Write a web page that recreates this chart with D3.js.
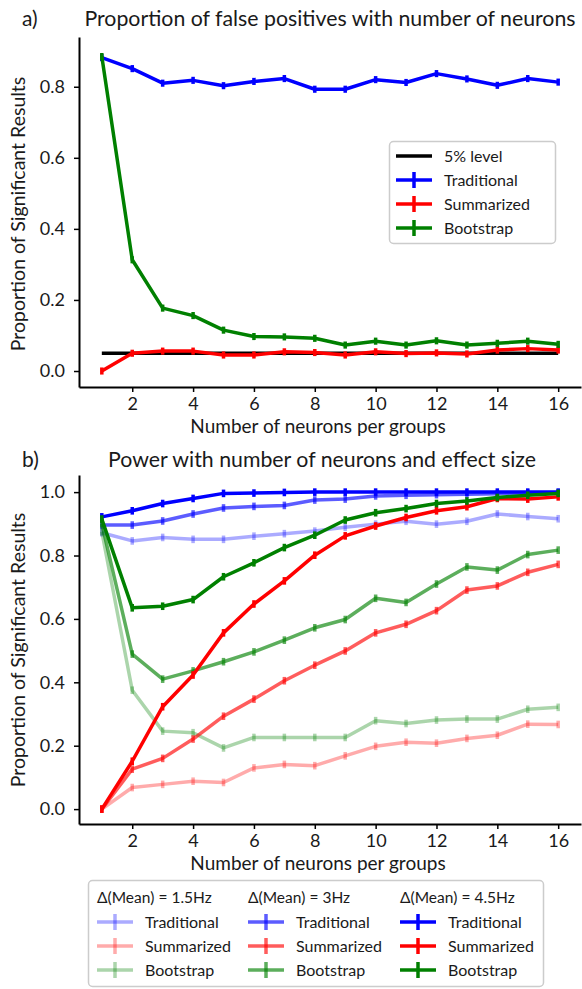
<!DOCTYPE html>
<html><head><meta charset="utf-8">
<script src="https://cdn.jsdelivr.net/npm/d3@7"></script>
<style>
body{margin:0;background:#fff}
text{font-family:Lato, "Open Sans", sans-serif; fill:#1a1a1a}
</style>
</head><body><svg id="c" width="582" height="989"></svg>
<script>
// ---------- data ----------
const neurons = [1,2,3,4,5,6,7,8,9,10,11,12,13,14,15,16];
const xTicks = [2,4,6,8,10,12,14,16];
const fpYTicks = [0.0,0.2,0.4,0.6,0.8];
const powYTicks = [0.0,0.2,0.4,0.6,0.8,1.0];

const fpLevel = 0.05;
const fpTraditional = [0.882,0.851,0.810,0.818,0.803,0.815,0.823,0.793,0.793,0.820,0.812,0.837,0.822,0.804,0.823,0.813];
const fpSummarized  = [0.000,0.050,0.056,0.056,0.045,0.045,0.054,0.052,0.045,0.054,0.049,0.051,0.048,0.059,0.063,0.059];
const fpBootstrap   = [0.885,0.313,0.177,0.156,0.115,0.097,0.096,0.092,0.073,0.084,0.073,0.085,0.073,0.078,0.084,0.075];
const fpError = 0.01;

const pow15Traditional = [0.872,0.846,0.857,0.851,0.851,0.861,0.869,0.877,0.889,0.899,0.908,0.899,0.908,0.931,0.923,0.916];
const pow15Summarized  = [0.000,0.068,0.078,0.088,0.084,0.130,0.141,0.137,0.168,0.198,0.211,0.208,0.223,0.233,0.268,0.267];
const pow15Bootstrap   = [0.875,0.375,0.246,0.241,0.193,0.226,0.226,0.226,0.226,0.279,0.270,0.281,0.284,0.284,0.315,0.321];
const pow3Traditional  = [0.896,0.896,0.909,0.931,0.950,0.955,0.958,0.975,0.978,0.988,0.990,0.992,0.993,0.995,0.997,0.998];
const pow3Summarized   = [0.000,0.126,0.160,0.221,0.293,0.347,0.405,0.454,0.499,0.556,0.583,0.626,0.691,0.704,0.747,0.772];
const pow3Bootstrap    = [0.900,0.489,0.410,0.436,0.465,0.496,0.533,0.572,0.598,0.665,0.652,0.710,0.764,0.754,0.803,0.817];
const pow45Traditional = [0.922,0.941,0.964,0.980,0.996,0.997,0.999,1.000,1.000,1.000,1.000,1.000,1.000,1.000,1.000,1.000];
const pow45Summarized  = [0.000,0.151,0.323,0.423,0.556,0.647,0.720,0.801,0.862,0.893,0.920,0.941,0.954,0.980,0.978,0.985];
const pow45Bootstrap   = [0.915,0.635,0.640,0.661,0.733,0.777,0.825,0.864,0.912,0.935,0.948,0.964,0.972,0.983,0.990,0.996];
const powError = 0.012;

const methodLabels = ["Traditional","Summarized","Bootstrap"];
const effectLabels = ["\u0394(Mean) = 1.5Hz","\u0394(Mean) = 3Hz","\u0394(Mean) = 4.5Hz"];

// ---------- styles ----------
const colors = {Traditional:"#0000ff", Summarized:"#ff0000", Bootstrap:"#008000"};
const effectAlpha = [0.33, 0.64, 1.0];
const LW = 3.5;

const svg = d3.select("#c");

function drawAxes(g, x, y, yTicks, xLabel, yLabel, yLabelCenter){
  const xa = g.append("g").attr("transform",`translate(0,${y.range()[0]})`)
    .call(d3.axisBottom(x).tickValues(xTicks).tickSize(5).tickSizeOuter(0).tickPadding(5).tickFormat(d3.format("d")));
  const ya = g.append("g").attr("transform",`translate(${x.range()[0]},0)`)
    .call(d3.axisLeft(y).tickValues(yTicks).tickSize(5).tickSizeOuter(0).tickPadding(9).tickFormat(d3.format(".1f")));
  [xa,ya].forEach(a=>{
    a.select(".domain").attr("stroke","#000").attr("stroke-width",2);
    a.selectAll(".tick line").attr("stroke","#000").attr("stroke-width",1.5);
    a.selectAll(".tick text").attr("font-size",18).attr("fill","#1a1a1a").style("font-family","Lato");
  });
  g.append("text").attr("x",(x.range()[0]+x.range()[1])/2 - 12).attr("y",y.range()[0]+46)
    .attr("text-anchor","middle").attr("font-size",19).text(xLabel);
  g.append("text").attr("transform",`translate(25,${yLabelCenter}) rotate(-90)`)
    .attr("text-anchor","middle").attr("font-size",19.5).text(yLabel);
}

function drawSeries(g, x, y, values, color, alpha, err){
  const line = d3.line().x((d,i)=>x(neurons[i])).y(d=>y(d));
  g.append("path").datum(values).attr("d",line).attr("fill","none")
    .attr("stroke",color).attr("stroke-opacity",alpha).attr("stroke-width",LW)
    .attr("stroke-linejoin","round").attr("stroke-linecap","butt");
  g.append("g").selectAll("line").data(values).join("line")
    .attr("x1",(d,i)=>x(neurons[i])).attr("x2",(d,i)=>x(neurons[i]))
    .attr("y1",d=>y(d-err)).attr("y2",d=>y(d+err))
    .attr("stroke",color).attr("stroke-opacity",alpha).attr("stroke-width",LW);
}

function legendSample(g, x0, yc, color, alpha, withBar){
  g.append("line").attr("x1",x0).attr("x2",x0+36).attr("y1",yc).attr("y2",yc)
    .attr("stroke",color).attr("stroke-opacity",alpha).attr("stroke-width",LW);
  if(withBar) g.append("line").attr("x1",x0+18).attr("x2",x0+18).attr("y1",yc-8).attr("y2",yc+8)
    .attr("stroke",color).attr("stroke-opacity",alpha).attr("stroke-width",LW);
}

// ---------- panel a ----------
{
  const x = d3.scaleLinear().domain([0.25,16.75]).range([79,581]);
  const y = d3.scaleLinear().domain([-0.045,0.94]).range([387,37]);
  const g = svg.append("g");
  svg.append("text").attr("x",22).attr("y",26).attr("font-size",21).text("a)");
  svg.append("text").attr("x",330).attr("y",26).attr("text-anchor","middle").attr("font-size",21.3)
    .text("Proportion of false positives with number of neurons");
  drawAxes(g,x,y,fpYTicks,"Number of neurons per groups","Proportion of Significant Results",214);
  g.append("line").attr("x1",x(neurons[0])).attr("x2",x(neurons[neurons.length-1]))
    .attr("y1",y(fpLevel)).attr("y2",y(fpLevel)).attr("stroke","#000").attr("stroke-width",LW);
  drawSeries(g,x,y,fpTraditional,colors.Traditional,1,fpError);
  drawSeries(g,x,y,fpSummarized,colors.Summarized,1,fpError);
  drawSeries(g,x,y,fpBootstrap,colors.Bootstrap,1,fpError);
  // legend
  const lg = svg.append("g");
  lg.append("rect").attr("x",389.5).attr("y",141.5).attr("width",166).attr("height",102).attr("rx",4)
    .attr("fill","#fff").attr("stroke","#cccccc").attr("stroke-width",1.5);
  const rows = [["5% level","#000",false]].concat(methodLabels.map(m=>[m,colors[m],true]));
  rows.forEach((r,i)=>{
    const yc = 156 + i*24;
    legendSample(lg,396,yc,r[1],1,r[2]);
    lg.append("text").attr("x",444).attr("y",yc+5.5).attr("font-size",16).text(r[0]);
  });
}

// ---------- panel b ----------
{
  const x = d3.scaleLinear().domain([0.25,16.75]).range([79,581]);
  const y = d3.scaleLinear().domain([-0.047,1.054]).range([824,475]);
  const g = svg.append("g");
  svg.append("text").attr("x",22).attr("y",467).attr("font-size",21).text("b)");
  svg.append("text").attr("x",322).attr("y",467).attr("text-anchor","middle").attr("font-size",21.3)
    .text("Power with number of neurons and effect size");
  drawAxes(g,x,y,powYTicks,"Number of neurons per groups","Proportion of Significant Results",650);
  const groups = [
    [pow15Traditional,pow15Summarized,pow15Bootstrap],
    [pow3Traditional,pow3Summarized,pow3Bootstrap],
    [pow45Traditional,pow45Summarized,pow45Bootstrap]
  ];
  groups.forEach((grp,k)=>{
    grp.forEach((vals,j)=>drawSeries(g,x,y,vals,colors[methodLabels[j]],effectAlpha[k],powError));
  });
  // legend
  const lg = svg.append("g");
  lg.append("rect").attr("x",88.5).attr("y",880.5).attr("width",455).attr("height",106).attr("rx",4)
    .attr("fill","#fff").attr("stroke","#cccccc").attr("stroke-width",1.5);
  const colX = [97,248,400];
  effectLabels.forEach((lab,k)=>{
    lg.append("text").attr("x",colX[k]).attr("y",902.5).attr("font-size",15.5).text(lab);
    methodLabels.forEach((m,j)=>{
      const yc = 922 + j*24;
      legendSample(lg,colX[k],yc,colors[m],effectAlpha[k],true);
      lg.append("text").attr("x",colX[k]+48).attr("y",yc+5.5).attr("font-size",16).text(m);
    });
  });
}
</script>
</body></html>
